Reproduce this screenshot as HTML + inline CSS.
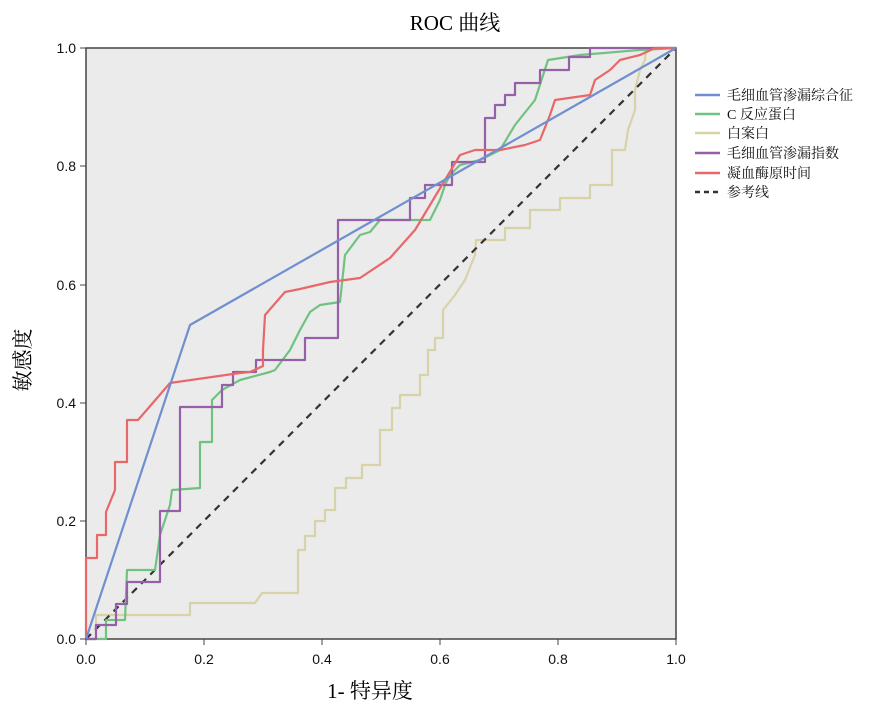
<!DOCTYPE html>
<html><head><meta charset="utf-8"><style>
body{margin:0;background:#fff;}
text{font-family:"Liberation Serif","Noto Serif CJK SC",serif;}
.t{font-family:"Liberation Sans","Noto Sans CJK SC",sans-serif;}
</style></head><body>
<svg width="874" height="710" xmlns="http://www.w3.org/2000/svg">
<rect x="86" y="48" width="590" height="591" fill="#ebebeb" stroke="#444" stroke-width="1.5"/>
<g fill="none" stroke-width="2.2" stroke-linejoin="round">
<polyline stroke="#d8d2a8" points="86,639 96,639 96,615 190,615 190,603 255,603 262,593 298,593 298,550 305,550 305,536 315,536 315,521 325,521 325,510 335,510 335,488 346,488 346,478 362,478 362,465 380,465 380,430 392,430 392,408 400,408 400,395 420,395 420,375 428,375 428,350 435,350 435,338 443,338 443,310 455,295 465,280 475,255 476,240 505,240 505,228 530,228 530,210 560,210 560,198 590,198 590,185 612,185 612,150 625,150 628,130 635,110 635,90 640,70 645,60 646,48 676,48"/>
<line x1="86" y1="639" x2="676" y2="48" stroke="#333" stroke-dasharray="7,6"/>
<polyline stroke="#6fc27f" points="86,639 106,639 106,620 125,620 127,570 155,570 160,535 170,505 172,490 200,488 200,442 212,442 212,400 222,390 240,380 270,372 275,370 290,350 300,330 310,312 320,305 340,302 345,255 360,235 370,232 380,220 430,220 440,200 445,185 450,175 460,165 480,160 500,150 515,125 535,100 548,60 580,55 640,50 676,48"/>
<polyline stroke="#9560a8" points="86,639 96,639 96,625 116,625 116,604 127,604 127,582 160,582 160,511 180,511 180,407 222,407 222,385 233,385 233,372 256,372 256,360 305,360 305,338 338,338 338,220 410,220 410,198 425,198 425,185 452,185 452,162 485,162 485,118 495,118 495,105 505,105 505,95 515,95 515,83 540,83 540,70 569,70 569,57 590,57 590,48 676,48"/>
<polyline stroke="#e8686a" points="86,639 86,558 97,558 97,535 106,535 106,512 115,490 115,462 127,462 127,420 138,420 145,412 170,383 240,373 250,372 263,366 263,350 265,315 285,292 300,289 330,282 360,278 390,258 415,230 430,205 445,180 460,155 475,150 500,150 525,145 540,140 550,115 555,100 590,95 595,80 610,70 620,60 640,55 655,48 676,48"/>
<polyline stroke="#6f8fcf" points="86,639 190,325 676,48"/>
</g>
<g font-size="14" fill="#111" text-anchor="end" class="t">
<text class="t" x="76" y="53">1.0</text><text class="t" x="76" y="171">0.8</text><text class="t" x="76" y="290">0.6</text><text class="t" x="76" y="408">0.4</text><text class="t" x="76" y="526">0.2</text><text class="t" x="76" y="644">0.0</text>
</g>
<g stroke="#444"><line x1="80" y1="48" x2="86" y2="48"/><line x1="80" y1="166" x2="86" y2="166"/><line x1="80" y1="285" x2="86" y2="285"/><line x1="80" y1="403" x2="86" y2="403"/><line x1="80" y1="521" x2="86" y2="521"/><line x1="80" y1="639" x2="86" y2="639"/>
<line x1="86" y1="639" x2="86" y2="645"/><line x1="204" y1="639" x2="204" y2="645"/><line x1="322" y1="639" x2="322" y2="645"/><line x1="440" y1="639" x2="440" y2="645"/><line x1="558" y1="639" x2="558" y2="645"/><line x1="676" y1="639" x2="676" y2="645"/></g>
<g font-size="14" fill="#111" text-anchor="middle">
<text class="t" x="86" y="664">0.0</text><text class="t" x="204" y="664">0.2</text><text class="t" x="322" y="664">0.4</text><text class="t" x="440" y="664">0.6</text><text class="t" x="558" y="664">0.8</text><text class="t" x="676" y="664">1.0</text>
</g>
<text x="455" y="30" font-size="21" text-anchor="middle">ROC 曲线</text>
<text x="370" y="698" font-size="21" text-anchor="middle">1- 特异度</text>
<text transform="translate(30,360) rotate(-90)" font-size="21" text-anchor="middle">敏感度</text>
<g stroke-width="2.5">
<line x1="695" y1="95" x2="720" y2="95" stroke="#6f8fcf"/>
<line x1="695" y1="114" x2="720" y2="114" stroke="#6fc27f"/>
<line x1="695" y1="133" x2="720" y2="133" stroke="#d8d2a8"/>
<line x1="695" y1="153" x2="720" y2="153" stroke="#9560a8"/>
<line x1="695" y1="173" x2="720" y2="173" stroke="#e8686a"/>
<line x1="695" y1="192" x2="720" y2="192" stroke="#333" stroke-dasharray="5,4"/>
</g>
<g font-size="14" fill="#111">
<text x="727" y="100">毛细血管渗漏综合征</text>
<text x="727" y="119">C 反应蛋白</text>
<text x="727" y="138">白案白</text>
<text x="727" y="158">毛细血管渗漏指数</text>
<text x="727" y="178">凝血酶原时间</text>
<text x="727" y="197">参考线</text>
</g>
</svg>
</body></html>
